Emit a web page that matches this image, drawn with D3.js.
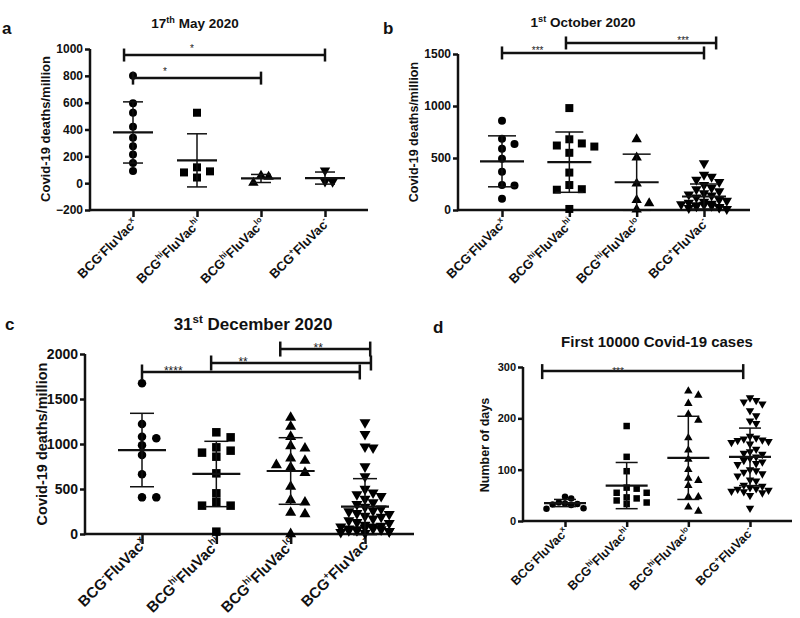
<!DOCTYPE html>
<html><head><meta charset="utf-8">
<script src="https://cdn.jsdelivr.net/npm/d3@7"></script>
<style>body{margin:0;background:#fff}svg{display:block}text{font-family:"Liberation Sans",Arial,Helvetica,sans-serif}</style>
</head><body><svg id="chart" width="800" height="618"></svg>
<script>
// ---------- categories ----------
const categories = ["BCG-FluVacx", "BCGhiFluVachi", "BCGhiFluVaclo", "BCG+FluVac-"];
const supBCG = ["-", "hi", "hi", "+"];
const supFlu = ["x", "hi", "lo", "-"];

// ---------- panel a : 17th May 2020 ----------
const mayTicks = [-200, 0, 200, 400, 600, 800, 1000];
const mayG1 = [800, 595, 525, 420, 338, 275, 213, 150, 90];
const mayG2 = [525, 88, 80, 118, 42];
const mayG3 = [55, 48, 3];
const mayG4 = [95, 12, 10];
const mayMean = [378, 170, 35, 38];
const maySD = [228, 198, 30, 45];

// ---------- panel b : 1st October 2020 ----------
const octTicks = [0, 500, 1000, 1500];
const octG1 = [859, 686, 634, 589, 492, 367, 241, 235, 109];
const octG2 = [980, 680, 640, 620, 610, 550, 360, 240, 200, 195, 10];
const octG3 = [680, 505, 255, 95, 65, 5];
const octG4 = [450, 340, 320, 290, 270, 240, 215, 200, 180, 160, 150, 140, 120, 100, 90, 80, 70, 60, 55, 50, 45, 40, 35, 30, 25, 20, 10];
const octMean = [468, 460, 267, 130];
const octSD = [245, 290, 270, 120];

// ---------- panel c : 31st December 2020 ----------
const decTicks = [0, 500, 1000, 1500, 2000];
const decG1 = [1674, 1222, 1081, 1063, 985, 878, 663, 407, 407];
const decG2 = [1130, 1074, 963, 926, 904, 859, 674, 452, 356, 315, 315, 26];
const decG3 = [1293, 1193, 1081, 978, 952, 841, 815, 767, 741, 681, 526, 378, 352, 237, 222, 0];
const decG4 = [1240, 1110, 970, 960, 750, 640, 500, 460, 440, 420, 390, 350, 330, 300, 280, 260, 250, 230, 220, 200, 190, 170, 150, 130, 120, 100, 90, 80, 80, 70, 60, 60, 50, 50, 40, 40, 30, 30, 20, 10];
const decMean = [933, 667, 700, 304];
const decSD = [408, 363, 370, 311];

// ---------- panel d : First 10000 Covid-19 cases ----------
const casesTicks = [0, 100, 200, 300];
const casesG1 = [47, 44, 36, 34, 33, 32, 31, 25, 24];
const casesG2 = [185, 125, 97, 65, 63, 55, 55, 46, 44, 40, 36, 33];
const casesG3 = [253, 245, 229, 208, 196, 162, 138, 120, 100, 83, 79, 69, 47, 47, 27, 19];
const casesG4 = [240, 235, 232, 228, 215, 205, 195, 190, 165, 162, 160, 158, 157, 155, 153, 150, 140, 135, 132, 130, 125, 122, 118, 115, 112, 110, 100, 98, 95, 92, 88, 80, 78, 70, 68, 65, 63, 62, 60, 58, 57, 55, 50, 25];
const casesMean = [35, 69, 123, 125];
const casesSD = [7, 45, 81, 56];

// ---------- significance brackets (group index units, value units) ----------
const mayBrackets = [{from: -0.14, to: 3, value: 955, label: "*", at: 0.92}, {from: 0, to: 2, value: 783, label: "*", at: 0.5}];
const octBrackets = [{from: 0, to: 3, value: 1510, label: "***", at: 0.53}, {from: 0.95, to: 3.18, value: 1606, label: "***", at: 2.69}];
const decBrackets = [{from: 0, to: 2.93, value: 1800, label: "****", at: 0.42}, {from: 0.93, to: 3.08, value: 1900, label: "**", at: 1.36}, {from: 1.86, to: 3.07, value: 2055, label: "**", at: 2.37}];
const casesBrackets = [{from: -0.37, to: 2.89, value: 292, label: "***", at: 0.86}];

const panels = [
  {letter: "a", title: [["17", 0], ["th", 1], [" May 2020", 0]], yLabel: "Covid-19 deaths/million",
   groups: [mayG1, mayG2, mayG3, mayG4], means: mayMean, sds: maySD, ticks: mayTicks, domain: [-200, 1000], brackets: mayBrackets,
   L: {x0: 90, x1: 368, first: 133, last: 325, bottom: 210, top: 49, lx: 2, ly: 34, tx: 195, ty: 28, ts: 13.5,
       ylx: 50, yly: 129, yls: 13, tf: 12, cf: 13, m: 8, sp: 13, mh: 20, ch: 10, labDx: 5, labDy: 14, capU: 6.5, capD: 6.5, af: 10, ady: 9, xtick: 7}},
  {letter: "b", title: [["1", 0], ["st", 1], [" October 2020", 0]], yLabel: "Covid-19 deaths/million",
   groups: [octG1, octG2, octG3, octG4], means: octMean, sds: octSD, ticks: octTicks, domain: [0, 1500], brackets: octBrackets,
   L: {x0: 458, x1: 750, first: 502, last: 704, bottom: 210, top: 54, lx: 383, ly: 34, tx: 583, ty: 27, ts: 13.5,
       ylx: 418, yly: 132, yls: 12.5, tf: 12, cf: 13, m: 8, sp: 12.5, mh: 22, ch: 14, labDx: 5, labDy: 14, capU: 6.5, capD: 6.5, af: 10, ady: 4, xtick: 7}},
  {letter: "c", title: [["31", 0], ["st", 1], [" December 2020", 0]], yLabel: "Covid-19 deaths/million",
   groups: [decG1, decG2, decG3, decG4], means: decMean, sds: decSD, ticks: decTicks, domain: [0, 2000], brackets: decBrackets,
   L: {x0: 85, x1: 414, first: 142, last: 365, bottom: 534, top: 354, lx: 5, ly: 330, tx: 253, ty: 330, ts: 17,
       ylx: 47, yly: 444, yls: 14.5, tf: 14, cf: 15, m: 8.5, sp: 14.3, mh: 24, ch: 12, labDx: 6, labDy: 10, capU: 7.5, capD: 7.5, af: 12, ady: 4, xtick: 10}},
  {letter: "d", title: [["First 10000 Covid-19 cases", 0]], yLabel: "Number of days",
   groups: [casesG1, casesG2, casesG3, casesG4], means: casesMean, sds: casesSD, ticks: casesTicks, domain: [0, 300], brackets: casesBrackets,
   L: {x0: 523, x1: 792, first: 565, last: 750, bottom: 521, top: 367, lx: 433, ly: 333, tx: 657, ty: 347, ts: 15,
       ylx: 489, yly: 445, yls: 12.5, tf: 11, cf: 12.5, m: 6.5, sp: 10, mh: 21, ch: 11, labDx: 4, labDy: 12, capU: 7, capD: 8, af: 10, ady: 2, xtick: 6}}
];

const svg = d3.select("#chart");
svg.append("rect").attr("width", 800).attr("height", 618).attr("fill", "#fff");
const INK = "#111";

// beeswarm-like horizontal dodge, limited to +-maxC columns
function dodge(vals, y, s, h, maxC) {
  const order = vals.map((v, i) => i).sort((a, b) => vals[b] - vals[a]);
  const placed = [], off = new Array(vals.length).fill(0);
  for (const i of order) {
    const py = y(vals[i]);
    let best = null, bestHits = Infinity;
    for (let k = 0; k <= 2 * maxC; k++) {
      const c = k === 0 ? 0 : (k % 2 ? Math.ceil(k / 2) : -Math.ceil(k / 2));
      const ox = c * s;
      const hits = placed.filter(p => Math.abs(p.y - py) < h && Math.abs(p.x - ox) < s * 0.99).length;
      if (hits === 0) { best = ox; bestHits = 0; break; }
      if (hits < bestHits) { bestHits = hits; best = ox; }
    }
    off[i] = best; placed.push({x: best, y: py});
  }
  return off;
}

const symbols = [d3.symbolCircle, d3.symbolSquare, d3.symbolTriangle, d3.symbolTriangle];

panels.forEach(P => {
  const L = P.L;
  const g = svg.append("g");
  const y = d3.scaleLinear().domain(P.domain).range([L.bottom, L.top]);
  const x = d3.scalePoint().domain(categories).range([L.first, L.last]);
  const step = x.step();
  const xg = v => L.first + v * step;

  // panel letter & title
  g.append("text").attr("x", L.lx).attr("y", L.ly).attr("font-size", 17).attr("font-weight", "bold").attr("fill", INK).text(P.letter);
  const t = g.append("text").attr("x", L.tx).attr("y", L.ty).attr("text-anchor", "middle").attr("font-size", L.ts).attr("font-weight", "bold").attr("fill", INK);
  let raised = false;
  P.title.forEach(([s, sup]) => {
    const ts = t.append("tspan").text(s);
    if (sup) { ts.attr("font-size", L.ts * 0.68).attr("dy", -L.ts * 0.4); raised = true; }
    else if (raised) { ts.attr("dy", L.ts * 0.4); raised = false; }
  });

  // y label
  g.append("text").attr("transform", `translate(${L.ylx},${L.yly}) rotate(-90)`).attr("text-anchor", "middle")
    .attr("font-size", L.yls).attr("font-weight", "bold").attr("fill", INK).text(P.yLabel);

  // axes
  const ya = g.append("g").attr("transform", `translate(${L.x0},0)`)
    .call(d3.axisLeft(y).tickValues(P.ticks).tickFormat(d3.format("d")).tickSize(5).tickSizeOuter(0).tickPadding(2));
  ya.selectAll("text").attr("font-size", L.tf).attr("font-weight", "bold").attr("fill", INK).attr("font-family", null);
  const xa = g.append("g").attr("transform", `translate(0,${L.bottom})`)
    .call(d3.axisBottom(x).tickSize(L.xtick).tickSizeOuter(0).tickFormat(() => ""));
  xa.select(".domain").attr("d", `M${L.x0},0H${L.x1}`);
  [ya, xa].forEach(a => { a.selectAll("path,line").attr("stroke", INK).attr("stroke-width", 2.5); });
  ya.select(".domain").attr("d", `M0,${L.bottom + 1.2}V${L.top}`);

  // category labels
  categories.forEach((c, i) => {
    const tx = g.append("text").attr("transform", `translate(${x(c) + L.labDx},${L.bottom + L.labDy}) rotate(-45)`)
      .attr("text-anchor", "end").attr("font-size", L.cf).attr("font-weight", "bold").attr("fill", INK);
    const r = L.cf * 0.42, sf = L.cf * 0.62;
    tx.append("tspan").text("BCG");
    tx.append("tspan").attr("font-size", sf).attr("dy", -r).text(supBCG[i]);
    tx.append("tspan").attr("dy", r).text("FluVac");
    tx.append("tspan").attr("font-size", sf).attr("dy", -r).text(supFlu[i]);
  });

  // points
  P.groups.forEach((vals, i) => {
    const dense = vals.length > 20 || (d3.max(vals) - d3.min(vals)) * Math.abs(y(1) - y(0)) < 3 * L.m;
    const s = dense ? L.m * 0.95 : L.sp;
    const h = dense ? L.m * 0.95 : L.m;
    const off = dodge(vals, y, s, h, 3);
    const m = L.m;
    const size = i === 0 ? Math.PI * (m / 2) * (m / 2) : i === 1 ? m * m : Math.sqrt(3) / 4 * (1.3 * m) * (1.3 * m);
    const sym = d3.symbol().type(symbols[i]).size(size);
    g.append("g").selectAll("path").data(vals).join("path")
      .attr("d", sym)
      .attr("transform", (v, j) => `translate(${x(categories[i]) + off[j]},${y(v)})` + (i === 3 ? " rotate(180)" : ""))
      .attr("fill", "#000");
  });

  // mean & SD
  categories.forEach((c, i) => {
    const cx = x(c), mu = P.means[i], sd = P.sds[i];
    const eg = g.append("g").attr("stroke", INK).attr("fill", "none");
    eg.append("line").attr("x1", cx).attr("x2", cx).attr("y1", y(mu - sd)).attr("y2", y(mu + sd)).attr("stroke-width", 1.5);
    [mu - sd, mu + sd].forEach(v => eg.append("line").attr("x1", cx - L.ch).attr("x2", cx + L.ch).attr("y1", y(v)).attr("y2", y(v)).attr("stroke-width", 1.5));
    eg.append("line").attr("x1", cx - L.mh).attr("x2", cx + L.mh).attr("y1", y(mu)).attr("y2", y(mu)).attr("stroke-width", 2.2);
  });

  // brackets
  P.brackets.forEach(b => {
    const by = y(b.value), x1 = xg(b.from), x2 = xg(b.to);
    const bg = g.append("g").attr("stroke", INK).attr("stroke-width", 2.5).attr("fill", "none");
    bg.append("line").attr("x1", x1).attr("x2", x2).attr("y1", by).attr("y2", by);
    [x1, x2].forEach(xx => bg.append("line").attr("x1", xx).attr("x2", xx).attr("y1", by - L.capU).attr("y2", by + L.capD));
    g.append("text").attr("x", xg(b.at)).attr("y", by - L.ady + L.af * 0.55).attr("text-anchor", "middle")
      .attr("font-size", L.af).attr("fill", "#222").text(b.label);
  });
});
</script></body></html>
